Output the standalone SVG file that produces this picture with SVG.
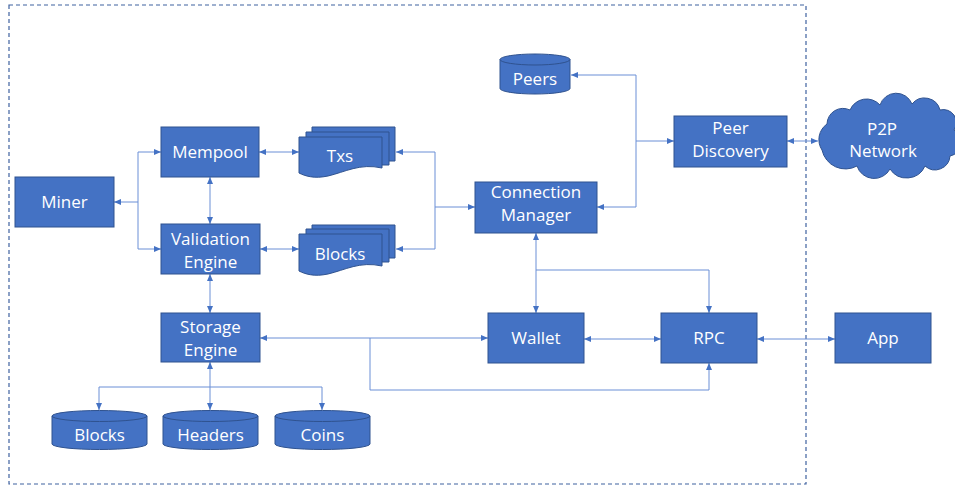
<svg xmlns="http://www.w3.org/2000/svg" width="955" height="486" viewBox="0 0 955 486">
<style>
.n{fill:#4472C4;stroke:#2F528F;stroke-width:1}
.t{fill:#FFFFFF;font-family:"Open Sans","Liberation Sans",sans-serif;font-size:17px;text-anchor:middle}
.c{fill:none;stroke:#6A8FD6;stroke-width:1}
.a{marker-end:url(#arr)}
.b{marker-start:url(#arr);marker-end:url(#arr)}
.cy{fill:none;stroke:#2F528F;stroke-width:1}
</style>
<defs>
<marker id="arr" markerUnits="userSpaceOnUse" markerWidth="8" markerHeight="8" refX="7" refY="3" orient="auto-start-reverse">
<path d="M0,0 L7,3 L0,6 Z" fill="#4472C4"/>
</marker>
</defs>
<rect x="9" y="5" width="797" height="479" fill="none" stroke="#3F62A0" stroke-width="1.2" stroke-dasharray="4,3"/>
<g id="connectors">
<path class="c a" d="M138,202 H114"/>
<path class="c" d="M138,202 V152 M138,202 V249"/>
<path class="c a" d="M138,152 H161"/>
<path class="c a" d="M138,249 H161"/>
<path class="c b" d="M259,152 H299"/>
<path class="c b" d="M260,249 H299"/>
<path class="c b" d="M210,177 V224"/>
<path class="c a" d="M435,152 H396"/>
<path class="c a" d="M435,249 H396"/>
<path class="c" d="M435,152 V249"/>
<path class="c a" d="M435,207 H475"/>
<path class="c a" d="M636,75 H571"/>
<path class="c" d="M636,75 V207"/>
<path class="c a" d="M636,141 H674"/>
<path class="c a" d="M636,207 H597"/>
<path class="c b" d="M787,141 H818"/>
<path class="c b" d="M536,233 V313"/>
<path class="c a" d="M536,270 H709 V313"/>
<path class="c b" d="M584,339 H661"/>
<path class="c b" d="M757,339 H835"/>
<path class="c b" d="M260,338 H488"/>
<path class="c a" d="M370,338 V390 H709 V363"/>
<path class="c b" d="M210,274 V313"/>
<path class="c b" d="M210,362 V410"/>
<path class="c" d="M99,387 H322"/>
<path class="c a" d="M99,387 V410"/>
<path class="c a" d="M322,387 V410"/>
</g>
<g id="miner"><rect class="n" x="15" y="177" width="99" height="50"/><text class="t" x="64.5" y="208">Miner</text></g>
<g id="mempool"><rect class="n" x="161" y="127" width="98" height="50"/><text class="t" x="210" y="158">Mempool</text></g>
<g id="validation"><rect class="n" x="161" y="224" width="99" height="50"/><text class="t" x="210.5" y="245">Validation</text><text class="t" x="210.5" y="268">Engine</text></g>
<g id="storage"><rect class="n" x="161" y="313" width="99" height="49"/><text class="t" x="210.5" y="333">Storage</text><text class="t" x="210.5" y="356">Engine</text></g>
<g id="txs">
<path class="n" d="M312,127 H395 V161 H312 Z"/>
<path class="n" d="M306,132 H389 V165 H306 Z"/>
<path class="n" d="M299,137 H382 V168 C360,163 345,172 328,176 C314,179 305,176 299,173 Z"/>
<text class="t" x="340" y="162">Txs</text>
</g>
<g id="blocks-docs">
<path class="n" d="M312,225 H395 V258 H312 Z"/>
<path class="n" d="M306,229 H389 V262 H306 Z"/>
<path class="n" d="M299,234 H382 V266 C360,261 345,270 328,274 C314,277 305,274 299,271 Z"/>
<text class="t" x="340" y="260">Blocks</text>
</g>
<g id="connection-manager"><rect class="n" x="475" y="182" width="122" height="51"/><text class="t" x="536" y="198">Connection</text><text class="t" x="536" y="221">Manager</text></g>
<g id="peers">
<path class="n" d="M500,59.5 A35,5.5 0 0 1 570,59.5 V88.5 A35,5.5 0 0 1 500,88.5 Z"/>
<path class="cy" d="M500,59.5 A35,5.5 0 0 0 570,59.5"/>
<text class="t" x="535" y="85">Peers</text>
</g>
<g id="peer-discovery"><rect class="n" x="674" y="116" width="113" height="51"/><text class="t" x="730.5" y="134">Peer</text><text class="t" x="730.5" y="157">Discovery</text></g>
<g id="p2p-network">
<path class="n" d="M822,150 A19,19 0 0 1 827,124 A16,16 0 0 1 850,110 A18,18 0 0 1 880,105 A17,17 0 0 1 912,104 A16,16 0 0 1 940,110 A13,13 0 0 1 954,130 A14,14 0 0 1 950,156 A15,15 0 0 1 925,166 A20,20 0 0 1 890,169 A18,18 0 0 1 857,166 A24,24 0 0 1 822,150 Z"/>
<text class="t" x="882" y="135">P2P</text><text class="t" x="883" y="157">Network</text>
</g>
<g id="wallet"><rect class="n" x="488" y="313" width="96" height="50"/><text class="t" x="536" y="344">Wallet</text></g>
<g id="rpc"><rect class="n" x="661" y="313" width="96" height="50"/><text class="t" x="709" y="344">RPC</text></g>
<g id="app"><rect class="n" x="835" y="313" width="96" height="50"/><text class="t" x="883" y="344">App</text></g>
<g id="blocks-db">
<path class="n" d="M52,416 A47.5,5.5 0 0 1 147,416 V444 A47.5,5.5 0 0 1 52,444 Z"/>
<path class="cy" d="M52,416 A47.5,5.5 0 0 0 147,416"/>
<text class="t" x="99.5" y="441">Blocks</text>
</g>
<g id="headers-db">
<path class="n" d="M163,416 A47.5,5.5 0 0 1 258,416 V444 A47.5,5.5 0 0 1 163,444 Z"/>
<path class="cy" d="M163,416 A47.5,5.5 0 0 0 258,416"/>
<text class="t" x="210.5" y="441">Headers</text>
</g>
<g id="coins-db">
<path class="n" d="M275,416 A47.5,5.5 0 0 1 370,416 V444 A47.5,5.5 0 0 1 275,444 Z"/>
<path class="cy" d="M275,416 A47.5,5.5 0 0 0 370,416"/>
<text class="t" x="322.5" y="441">Coins</text>
</g>
</svg>
